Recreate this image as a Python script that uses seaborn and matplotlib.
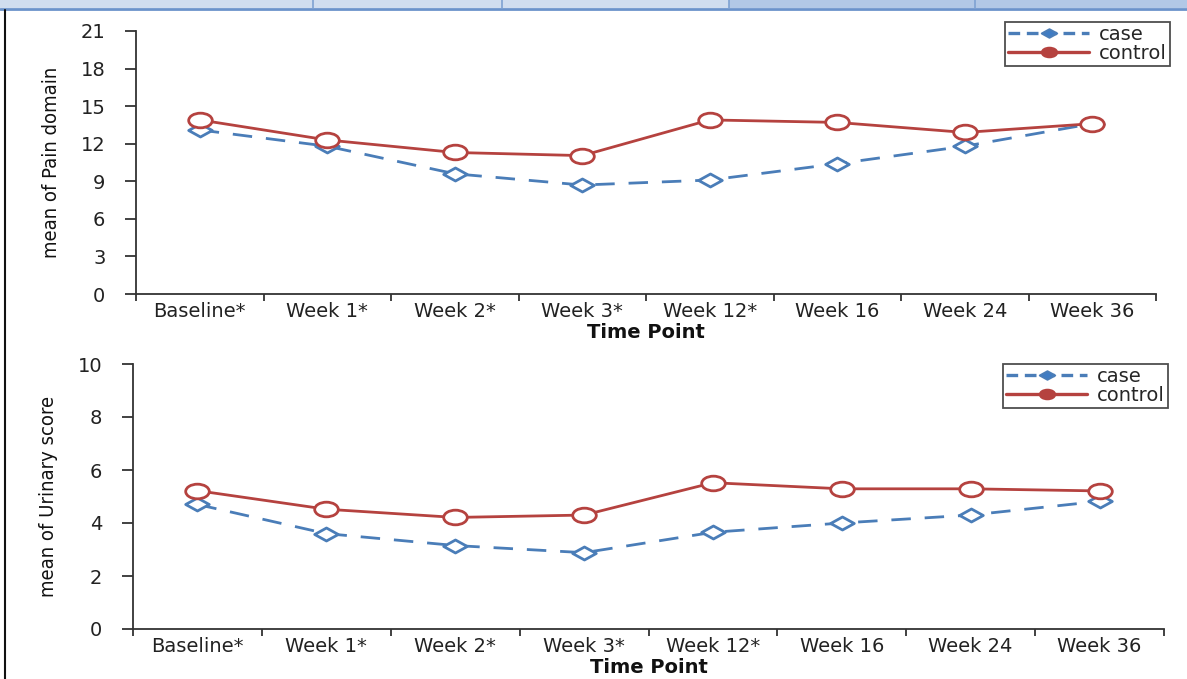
import matplotlib
matplotlib.use("Agg")
import matplotlib.pyplot as plt
import numpy as np
import pandas as pd
import seaborn as sns
from matplotlib.path import Path
from matplotlib.lines import Line2D
from matplotlib.patches import Rectangle

# ---------------- data ----------------
time_points = ["Baseline*", "Week 1*", "Week 2*", "Week 3*",
               "Week 12*", "Week 16", "Week 24", "Week 36"]
groups = ["case", "control"]

pain_case = [13.1, 11.8, 9.6, 8.7, 9.1, 10.4, 11.8, 13.6]
pain_control = [13.9, 12.3, 11.3, 11.05, 13.9, 13.7, 12.9, 13.6]

urinary_case = [4.7, 3.6, 3.15, 2.88, 3.65, 4.0, 4.3, 4.82]
urinary_control = [5.22, 4.52, 4.21, 4.3, 5.52, 5.29, 5.29, 5.21]

pain_yticks = [0, 3, 6, 9, 12, 15, 18, 21]
urinary_yticks = [0, 2, 4, 6, 8, 10]

pain_ylabel = "mean of Pain domain"
urinary_ylabel = "mean of Urinary score"
xlabel = "Time Point"

# ---------------- style ----------------
sns.set_style("ticks")
plt.rcParams["font.family"] = ["DejaVu Sans"]
plt.rcParams["axes.edgecolor"] = "#333333"
plt.rcParams["xtick.color"] = "#333333"
plt.rcParams["ytick.color"] = "#333333"

c_case = "#4a7db8"
c_ctrl = "#b5423f"
palette = {"case": c_case, "control": c_ctrl}

circ = Path.unit_circle()
ellipse = Path(circ.vertices * np.array([1.0, 0.62]), circ.codes)
diamond = Path(np.array([[-1.0, 0.0], [0.0, 0.55], [1.0, 0.0], [0.0, -0.55], [-1.0, 0.0]]),
               [Path.MOVETO, Path.LINETO, Path.LINETO, Path.LINETO, Path.CLOSEPOLY])
markers = {"case": diamond, "control": ellipse}
dashes = {"case": (7, 5), "control": ""}

W, H = 1187, 679
fig = plt.figure(figsize=(W / 100, H / 100), dpi=100)
fig.patch.set_facecolor("white")


def make_df(case, control):
    return pd.DataFrame({
        "time": time_points * 2,
        "value": list(case) + list(control),
        "group": ["case"] * len(case) + ["control"] * len(control),
    })


def draw(ax, case, control, yticks, ylabel, legend_anchor):
    df = make_df(case, control)
    sns.lineplot(data=df, x="time", y="value", hue="group", style="group",
                 hue_order=groups, style_order=groups, palette=palette,
                 markers=markers, dashes=dashes, sort=False, ax=ax,
                 linewidth=2.0, markersize=17, markeredgewidth=2.0,
                 markerfacecolor="white", legend=True)
    for ln in ax.lines:
        ln.set_markeredgecolor(ln.get_color())
        ln.set_markerfacecolor("white")

    n = len(time_points)
    ax.set_xlim(-0.5, n - 0.5)
    ax.set_xticks(np.arange(-0.5, n, 1.0))
    ax.set_xticklabels([""] * (n + 1))
    ax.set_xticks(np.arange(n), labels=time_points, minor=True)
    ax.tick_params(axis="x", which="major", length=5, width=1.3, direction="out")
    ax.tick_params(axis="x", which="minor", length=0, pad=6, labelsize=14,
                   labelcolor="#222222")

    ax.set_ylim(yticks[0], yticks[-1])
    ax.set_yticks(yticks)
    ax.tick_params(axis="y", length=8, width=1.3, pad=14, labelsize=14,
                   labelcolor="#222222")

    sns.despine(ax=ax)
    for s in ("left", "bottom"):
        ax.spines[s].set_linewidth(1.3)

    ax.set_xlabel(xlabel, fontsize=14, fontweight="bold", labelpad=1, color="#111111")
    ax.set_ylabel(ylabel, fontsize=14.5, labelpad=14, color="#111111",
                  family=["Liberation Sans Narrow", "DejaVu Sans"],
                  fontstretch="condensed")

    handles, labels = ax.get_legend_handles_labels()
    new_h = []
    for h in handles:
        c = h.get_color()
        fill = "#3f7cc4" if c == c_case else c
        nh = Line2D([], [], color=c, lw=2.4,
                    linestyle=(0, (3.5, 2)) if c == c_case else "-",
                    marker=h.get_marker(), markersize=11,
                    markerfacecolor=fill, markeredgecolor=c, markeredgewidth=1.5)
        new_h.append(nh)
    leg = ax.legend(new_h, labels, loc="upper right", bbox_to_anchor=legend_anchor,
                    bbox_transform=fig.transFigure, frameon=True, fancybox=False,
                    fontsize=14, handlelength=4.2, handletextpad=0.5,
                    labelspacing=0.0, borderpad=0.15, borderaxespad=0)
    leg.get_frame().set_edgecolor("#222222")
    leg.get_frame().set_linewidth(1.3)
    return ax


ax1 = fig.add_axes([136 / W, 1 - 294 / H, (1156 - 136) / W, (294 - 31) / H])
draw(ax1, pain_case, pain_control, pain_yticks, pain_ylabel, (1170 / W, 1 - 22 / H))

ax2 = fig.add_axes([133 / W, 1 - 629 / H, (1164 - 133) / W, (629 - 364) / H])
draw(ax2, urinary_case, urinary_control, urinary_yticks, urinary_ylabel,
     (1168 / W, 1 - 364 / H))

# ---------------- page decoration (table band at top, left border) ----------------
fig.add_artist(Rectangle((0, 1 - 8 / H), 729 / W, 8 / H, transform=fig.transFigure,
                         facecolor="#d0ddef", edgecolor="none"))
fig.add_artist(Rectangle((729 / W, 1 - 8 / H), 1 - 729 / W, 8 / H, transform=fig.transFigure,
                         facecolor="#b2c8e6", edgecolor="none"))
fig.add_artist(Line2D([0, 1], [1 - 8.5 / H, 1 - 8.5 / H], transform=fig.transFigure,
                      color="#6b93cb", lw=2))
for xd in (313, 502, 729, 975):
    fig.add_artist(Line2D([xd / W, xd / W], [1 - 8 / H, 1], transform=fig.transFigure,
                          color="#7fa2d2", lw=1.2))
fig.add_artist(Line2D([5 / W, 5 / W], [0, 1 - 10 / H], transform=fig.transFigure,
                      color="#111111", lw=1.5))

fig.savefig("out.png", dpi=100, facecolor="white")
